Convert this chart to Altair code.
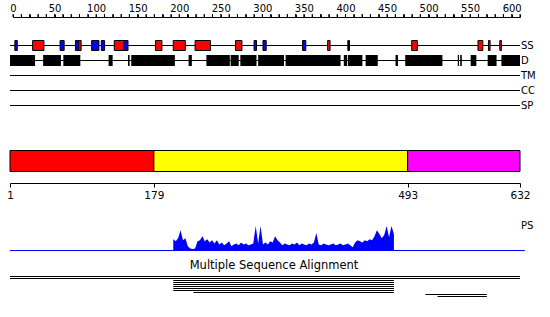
import altair as alt
import pandas as pd

# ---------------- data ----------------
ruler_ticks = list(range(0, 611, 10))

track_names = ["SS", "D", "TM", "CC", "SP"]
seq_start, seq_end = 1, 632

# secondary structure elements (residues): H = helix (red), E = strand (blue), C = other (black)
ss_start = [7, 29, 63, 82, 86, 102, 114, 130, 142, 181, 203, 230, 280, 303, 314, 363, 394, 419, 498, 580, 593, 607]
ss_end   = [10, 43, 68, 86, 89, 111, 118, 142, 147, 189, 218, 249, 288, 306, 318, 367, 397, 421, 505, 586, 595, 609]
ss_type  = ["E", "H", "E", "E", "H", "E", "E", "H", "E", "H", "H", "H", "H", "E", "E", "E", "H", "C", "H", "H", "H", "H"]

# disorder blocks (residues)
d_start = [1, 42, 67, 123, 147, 151, 222, 244, 274, 286, 308, 342, 414, 419, 441, 478, 490, 555, 558, 571, 592, 609]
d_end   = [32, 64, 88, 128, 149, 205, 226, 273, 284, 306, 340, 410, 418, 437, 456, 481, 536, 556.5, 560, 578, 603, 632]

# domain boundaries
dom_start = [1, 179, 493]
dom_end   = [179, 493, 632]
dom_name  = ["Domain 1", "Domain 2", "Domain 3"]
dom_ticks = [1, 179, 493, 632]

# PS profile (residues 203..476, step 3)
ps_pos = list(range(203, 477, 3))
ps_val = [0.46, 0.38, 0.50, 0.83, 0.42, 0.50, 0.17, 0.08, 0.06, 0.08,
          0.38, 0.42, 0.58, 0.38, 0.46, 0.33, 0.42, 0.29, 0.42, 0.25,
          0.33, 0.21, 0.29, 0.38, 0.17, 0.25, 0.29, 0.21, 0.33, 0.25,
          0.29, 0.21, 0.25, 0.29, 1.00, 0.29, 1.00, 0.25, 0.33, 0.25,
          0.38, 0.33, 0.58, 0.42, 0.33, 0.21, 0.29, 0.25, 0.21, 0.29,
          0.25, 0.33, 0.21, 0.29, 0.25, 0.21, 0.29, 0.25, 0.33, 0.71,
          0.25, 0.21, 0.29, 0.25, 0.21, 0.25, 0.29, 0.21, 0.25, 0.29,
          0.21, 0.25, 0.29, 0.21, 0.13, 0.33, 0.42, 0.38, 0.33, 0.42,
          0.38, 0.46, 0.42, 0.58, 0.83, 0.67, 0.50, 0.63, 1.00, 0.54,
          1.00, 0.67]
ps_axis = [1, 638]

# multiple sequence alignment segments
msa_start = [1, 1, 203, 203, 203, 203, 203, 203, 228, 515, 530]
msa_end   = [632, 632, 476, 476, 476, 476, 476, 476, 476, 591, 591]
msa_row   = list(range(len(msa_start)))

# ---------------- frames ----------------
ruler_df = pd.DataFrame({"pos": ruler_ticks})
tracks_df = pd.DataFrame({"track": track_names, "start": seq_start, "end": seq_end})
ss_df = pd.DataFrame({"start": ss_start, "end": ss_end, "type": ss_type, "track": "SS"})
d_df = pd.DataFrame({"start": d_start, "end": d_end, "track": "D"})
dom_df = pd.DataFrame({"start": dom_start, "end": dom_end, "name": dom_name})
ps_df = pd.DataFrame({"pos": ps_pos, "ps": ps_val})
psaxis_df = pd.DataFrame({"start": [ps_axis[0]], "end": [ps_axis[1]]})
msa_df = pd.DataFrame({"start": msa_start, "end": msa_end, "row": msa_row})
ps_label_df = pd.DataFrame({"label": ["PS"]})
msa_label_df = pd.DataFrame({"label": ["Multiple Sequence Alignment"]})

FONT = "DejaVu Sans"


def res_scale():
    return alt.Scale(domain=[seq_start, seq_end], range=[10, 520], nice=False, zero=False)


def track_scale():
    return alt.Scale(type="point", domain=track_names, range=[45.5, 105.5], padding=0)


ruler = alt.Chart(ruler_df).mark_rule(color="black").encode(
    x=alt.X("pos:Q",
            scale=alt.Scale(domain=[0, 610], range=[13, 520], nice=False, zero=False),
            axis=alt.Axis(orient="top", offset=-17, values=ruler_ticks,
                          labelExpr="datum.value % 50 == 0 ? datum.label : ''",
                          tickSize=3, tickColor="black", domainColor="black",
                          labelColor="black", labelFontSize=10, labelFont=FONT,
                          labelPadding=1, labelFlush=False, labelOverlap=False,
                          grid=False, title=None)),
    y=alt.value(14), y2=alt.value(17),
)

track_lines = alt.Chart(tracks_df).mark_rule(color="black").encode(
    x=alt.X("start:Q", scale=res_scale(), axis=None),
    x2="end:Q",
    y=alt.Y("track:N", scale=track_scale(), axis=None),
)

track_labels = alt.Chart(tracks_df).mark_text(
    align="left", baseline="middle", fontSize=10, font=FONT, color="black"
).encode(
    x=alt.value(521),
    y=alt.Y("track:N", scale=track_scale(), axis=None),
    text="track:N",
)

ss_bars = alt.Chart(ss_df).mark_bar(stroke="black", strokeWidth=1, size=10).encode(
    x=alt.X("start:Q", scale=res_scale(), axis=None),
    x2="end:Q",
    y=alt.Y("track:N", scale=track_scale(), axis=None),
    color=alt.Color("type:N", scale=alt.Scale(domain=["H", "E", "C"],
                                              range=["#ff0000", "#0000ff", "#000000"]),
                    legend=None),
)

d_bars = alt.Chart(d_df).mark_bar(color="black", size=11).encode(
    x=alt.X("start:Q", scale=res_scale(), axis=None),
    x2="end:Q",
    y=alt.Y("track:N", scale=track_scale(), axis=None),
)

domains = alt.Chart(dom_df).mark_bar(stroke="black", strokeWidth=1).encode(
    x=alt.X("start:Q", scale=res_scale(),
            axis=alt.Axis(orient="bottom", offset=-134, values=dom_ticks,
                          tickSize=4, tickColor="black", domainColor="black",
                          labelColor="black", labelFontSize=10.5, labelFont=FONT,
                          labelPadding=3, labelFlush=False, labelOverlap=False,
                          grid=False, title=None)),
    x2="end:Q",
    y=alt.value(150.5), y2=alt.value(171.5),
    color=alt.Color("name:N", scale=alt.Scale(domain=dom_name,
                                              range=["#ff0000", "#ffff00", "#ff00ff"]),
                    legend=None),
)

ps_area = alt.Chart(ps_df).mark_area(color="#0000ff", interpolate="linear").encode(
    x=alt.X("pos:Q", scale=res_scale(), axis=None),
    y=alt.Y("ps:Q", scale=alt.Scale(domain=[0, 1], range=[250.5, 226], nice=False), axis=None),
    y2=alt.datum(0),
)

ps_base = alt.Chart(psaxis_df).mark_rule(color="#0000ff").encode(
    x=alt.X("start:Q", scale=res_scale(), axis=None),
    x2="end:Q",
    y=alt.value(250.5),
)

ps_label = alt.Chart(ps_label_df).mark_text(
    align="left", baseline="middle", fontSize=10, font=FONT, color="black"
).encode(x=alt.value(521), y=alt.value(226), text="label:N")

msa_label = alt.Chart(msa_label_df).mark_text(
    align="center", baseline="middle", fontSize=11.5, font=FONT, color="black"
).encode(x=alt.value(274), y=alt.value(266), text="label:N")

msa_lines = alt.Chart(msa_df).mark_rule(color="black").encode(
    x=alt.X("start:Q", scale=res_scale(), axis=None),
    x2="end:Q",
    y=alt.Y("row:Q", scale=alt.Scale(domain=[0, 10], range=[276.5, 296.5], nice=False, zero=False),
            axis=None),
)

chart = alt.layer(
    ruler, track_lines, ss_bars, d_bars, track_labels,
    domains, ps_area, ps_base, ps_label, msa_label, msa_lines,
).resolve_scale(
    x="independent", y="independent", color="independent"
).properties(
    width=550, height=317, padding=0,
    autosize=alt.AutoSizeParams(type="none"),
    background="white",
).configure_view(strokeWidth=0)

chart.save("out.html", embed_options={"renderer": "svg", "actions": False})
